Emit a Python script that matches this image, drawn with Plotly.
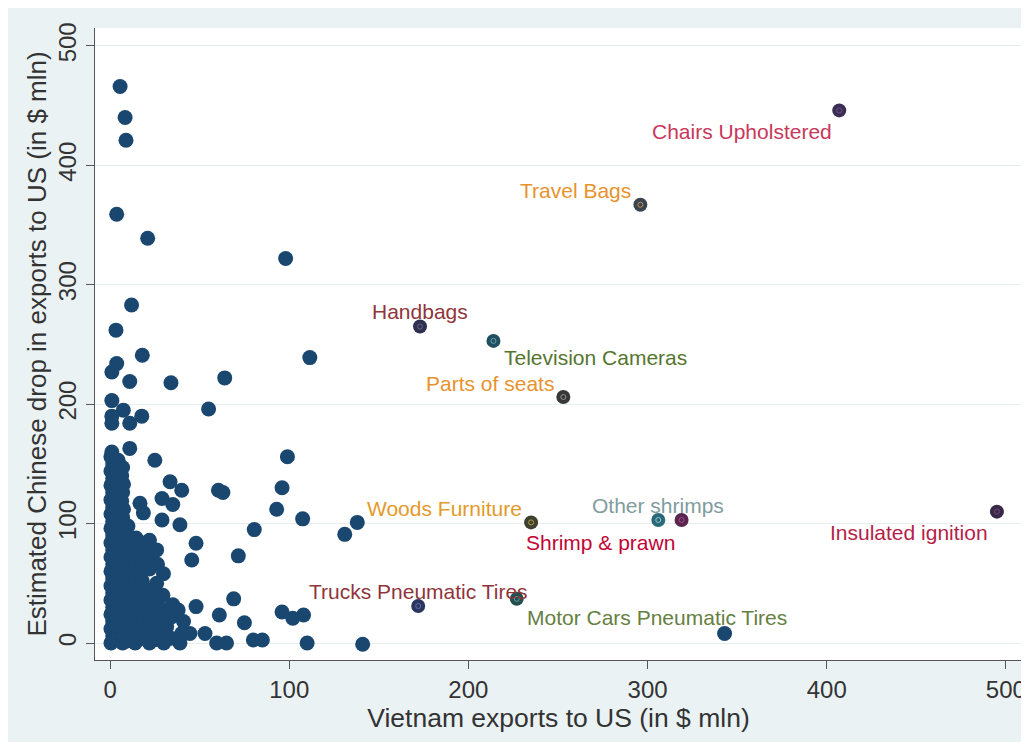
import plotly.graph_objects as go

# ---------------- data ----------------
main_xy = [
    # sparse / outlying points
    (5.6, 466), (8.4, 440), (8.9, 421), (3.7, 359), (21, 339), (98, 322), (12, 283),
    (3.3, 262), (18, 241), (111.5, 239), (3.7, 234), (1, 227), (11, 219), (34, 218),
    (64, 222), (55, 196), (1, 203), (7.4, 195), (17.7, 190), (1, 190), (11, 184),
    (1, 184), (1, 160), (11, 163), (25, 153), (99, 156), (33.5, 135), (40, 128),
    (60.5, 128), (63, 126), (96, 130), (29, 121), (35, 116), (16.7, 117), (18.6, 109),
    (29, 103), (39, 99), (93, 112), (107.5, 104), (80.5, 95), (131, 91), (138, 101),
    (48, 83.5), (45.6, 69.5), (71.6, 73), (29.8, 58), (21.4, 79), (26, 50), (69, 37),
    (48, 30.5), (38, 27.6), (61, 23.5), (75, 17), (96, 26), (102, 20.7), (108, 23.5),
    (53, 8), (59.5, 0), (65, 0), (80, 2.5), (85, 2.5), (110, 0), (141, -1),
    (31.6, 13.7), (39, 0), (44.6, 8), (343, 8),
    # dense cluster near the origin
    (0.5, 0), (1.5, 6), (0.5, 12), (1.5, 18), (0.5, 24), (1.5, 30), (0.5, 36), (1.5, 42),
    (0.5, 48), (1.5, 54), (0.5, 60), (1.5, 66), (0.5, 72), (1.5, 78), (0.5, 84), (1.5, 90),
    (0.5, 96), (1.5, 102), (0.5, 108), (1.5, 114), (0.5, 120), (1.5, 126), (0.5, 132),
    (1.5, 138), (0.5, 144), (1.5, 150), (0.5, 156),
    (4, 3), (4.5, 9), (3.5, 15), (4, 21), (4.5, 27), (3.5, 33), (4, 39), (4.5, 45),
    (3.5, 51), (4, 57), (4.5, 63), (3.5, 69), (4, 75), (4.5, 81), (3.5, 87), (4, 93),
    (4.5, 99), (3.5, 105), (4, 111), (4.5, 117), (3.5, 123), (4, 129), (4.5, 135),
    (3.5, 141), (4, 147), (4.5, 153),
    (7, 0), (7.5, 7), (6.5, 14), (7, 21), (7.5, 28), (6.5, 35), (7, 42), (7.5, 49),
    (6.5, 56), (7, 63), (7.5, 70), (6.5, 77), (7, 84), (7.5, 91), (6.5, 98), (7, 105),
    (7.5, 112), (6.5, 119), (7, 126), (7.5, 133), (6.5, 140), (7, 147),
    (10, 2), (10.5, 10), (9.5, 18), (10, 26), (10.5, 34), (9.5, 42), (10, 50), (10.5, 58),
    (9.5, 66), (10, 74), (10.5, 82), (9.5, 90), (10, 98),
    (14, 0), (13.5, 8), (14.5, 16), (14, 24), (13.5, 32), (14.5, 40), (14, 48), (13.5, 56),
    (14.5, 64), (14, 72), (13.5, 80), (14.5, 88),
    (18, 4), (17.5, 12), (18.5, 20), (18, 28), (17.5, 36), (18.5, 44), (18, 52), (17.5, 60),
    (18.5, 68), (18, 76), (17.5, 84),
    (22, 0), (21.5, 8), (22.5, 16), (22, 24), (21.5, 34), (22.5, 44), (22, 62), (21.5, 72),
    (22.5, 80), (22, 86),
    (26, 3), (25.5, 12), (26.5, 20), (26, 30), (25.5, 40), (26.5, 66), (26, 78),
    (30, 0), (29.5, 8), (30.5, 18), (30, 28), (29.5, 40),
    (34, 4), (34.5, 22), (35, 32),
    (40, 8), (41, 18),
]
main_x = [p[0] for p in main_xy]
main_y = [p[1] for p in main_xy]

label_names = ["Chairs Upholstered", "Travel Bags", "Handbags", "Television Cameras",
               "Parts of seats", "Woods Furniture", "Other shrimps", "Shrimp & prawn",
               "Insulated ignition", "Trucks Pneumatic Tires", "Motor Cars Pneumatic Tires"]
label_x = [407, 296, 173, 214, 253, 235, 306, 319, 495, 172, 227]
label_y = [446, 367, 265, 253, 206, 101, 103, 103, 110, 31, 37]

x_ticks = [0, 100, 200, 300, 400, 500]
y_ticks = [0, 100, 200, 300, 400, 500]

# ---------------- styles ----------------
NAVY = "#1a476f"
BG = "#eaf2f3"
label_text_colors = ["#c8385a", "#e8922e", "#90353b", "#55752f", "#e8922e", "#e39a2a",
                     "#7f9ca0", "#c10534", "#b51e48", "#90353b", "#66803f"]
label_marker_colors = ["#3b2d55", "#3b4550", "#2e3050", "#1f5060", "#383838", "#404030",
                       "#2a6a78", "#5a2550", "#3a2848", "#2a3560", "#254e4e"]
label_center_colors = ["#6a5080", "#c09050", "#6a6080", "#70a0a8", "#909090", "#b0a040",
                       "#90c8d0", "#a05080", "#6a4878", "#6070a0", "#60a0a0"]
# (xanchor, xshift, yshift) of each label relative to its point
label_pos = [("right", -5, -21), ("right", -7, 14), ("center", 0, 15), ("left", 9, -17),
             ("right", -7, 14), ("right", -7, 14), ("center", 0, 15), ("right", -5, -22),
             ("right", -7, -21), ("center", 0, 15), ("left", 8, -19)]

FONT = "Liberation Sans, Arial, sans-serif"

fig = go.Figure()
fig.add_trace(go.Scatter(
    x=main_x, y=main_y, mode="markers",
    marker=dict(size=15, color=NAVY, line=dict(width=0)),
    hoverinfo="x+y", showlegend=False))
fig.add_trace(go.Scatter(
    x=label_x, y=label_y, mode="markers",
    marker=dict(size=14, color=label_marker_colors, line=dict(width=0)),
    text=label_names, hoverinfo="text", showlegend=False))
fig.add_trace(go.Scatter(
    x=label_x, y=label_y, mode="markers",
    marker=dict(size=5, color="rgba(0,0,0,0)", line=dict(width=1, color=label_center_colors)),
    hoverinfo="skip", showlegend=False))

for name, lx, ly, col, (xa, xs, ys) in zip(label_names, label_x, label_y,
                                            label_text_colors, label_pos):
    fig.add_annotation(x=lx, y=ly, text=name, showarrow=False,
                       xanchor=xa, yanchor="middle", xshift=xs, yshift=ys,
                       font=dict(family=FONT, size=21, color=col))

# background: light blue graph region, white plot region
fig.add_shape(type="rect", xref="paper", yref="paper",
              x0=-0.0939, x1=1.0022, y0=-0.1297, y1=1.0316,
              fillcolor=BG, line=dict(width=0), layer="below")
fig.add_shape(type="rect", xref="paper", yref="paper",
              x0=0, x1=1, y0=0, y1=1,
              fillcolor="white", line=dict(width=0), layer="below")

fig.update_layout(
    width=1029, height=747,
    margin=dict(l=87, r=15, t=20, b=95, autoexpand=False),
    paper_bgcolor="white", plot_bgcolor="white",
    font=dict(family=FONT, color="#333333"),
    xaxis=dict(
        range=[-8.4, 509], tickvals=x_ticks, ticktext=[str(v) for v in x_ticks],
        automargin=False,
        showgrid=False, zeroline=False, showline=True, linecolor="#555555", linewidth=1.3,
        ticks="outside", ticklen=8, tickcolor="#555555", tickwidth=1.3,
        tickfont=dict(family=FONT, size=24, color="#333333"),
        title=dict(text="Vietnam exports to US (in $ mln)", standoff=2,
                   font=dict(family=FONT, size=26.5, color="#333333"))),
    yaxis=dict(
        range=[-14.2, 515], tickvals=y_ticks, ticktext=[str(v) for v in y_ticks],
        automargin=False,
        showgrid=True, gridcolor="#e6eef0", gridwidth=1.3,
        zeroline=False, showline=True, linecolor="#555555", linewidth=1.3,
        ticks="outside", ticklen=8, tickcolor="#555555", tickwidth=1.3, tickangle=-90,
        tickfont=dict(family=FONT, size=24, color="#333333"),
        title=dict(text="Estimated Chinese drop in exports to US (in $ mln)", standoff=0,
                   font=dict(family=FONT, size=26, color="#333333"))),
)

fig.write_html("out.html")
